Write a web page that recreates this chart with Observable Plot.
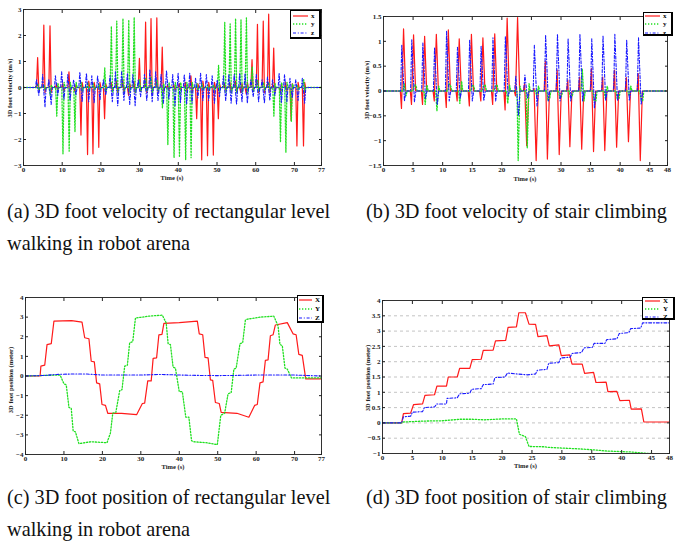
<!DOCTYPE html>
<html><head><meta charset="utf-8">
<script src="https://cdn.jsdelivr.net/npm/d3@7"></script>
<script src="https://cdn.jsdelivr.net/npm/@observablehq/plot@0.6"></script>
<style>
body{margin:0;background:#fff}
#fig{position:relative;width:675px;height:549px;overflow:hidden;background:#fff;font-family:'Liberation Serif',Tinos,'Times New Roman','DejaVu Serif',serif}
.panel{position:absolute}
.cap{position:absolute;font-family:'Liberation Serif',Tinos,'Times New Roman','DejaVu Serif',serif;font-size:20.3px;line-height:32px;white-space:nowrap;color:#111}
.axl{position:absolute;font-family:'Liberation Serif',Tinos,'Times New Roman',serif;font-size:6.5px;font-weight:bold;white-space:nowrap;color:#222;line-height:1}
.leg{position:absolute;background:#fff;border:1px solid #000;border-right-width:2px;border-bottom-width:2px;box-sizing:border-box}
</style></head><body><div id="fig"></div>
<script>
// ---------- (a) velocity, rectangular walking ----------
const stepsA = [3.7,5.3,6.9,8.6,10.2,11.8,13.3,14.9,16.6,18.0,19.5,21.0,22.7,24.1,25.7,27.2,28.6,30.0,31.6,33.0,34.5,35.9,37.3,38.9,40.3,41.9,43.3,44.8,46.1,47.6,49.1,50.4,52.0,53.4,54.8,56.2,57.6,59.1,60.5,62.0,63.4,64.7,66.4,67.8,69.2,70.7,72.4];
const xPeakA = [1.15,2.4,2.37,0.15,0.15,0.6,-0.15,-1.83,-2.58,-2.55,-2.3,-1.2,0.2,0.25,0.3,-0.3,0.25,1.12,2.52,2.65,2.68,1.55,0.1,0.1,0.15,0.2,0.45,-1.2,-2.78,-2.62,-2.6,-1.2,0.15,0.2,0.25,-0.2,-0.25,1.07,2.43,2.55,2.82,1.52,-0.15,0.2,-1.27,-2.25,-2.25];
const xBackA = [-0.1,-0.2,-0.2,-0.1,-0.15,-0.2,0.1,0.2,0.25,0.2,0.2,0.15,-0.15,-0.2,-0.2,0.15,-0.2,-0.15,-0.2,-0.25,-0.2,-0.2,-0.1,-0.1,-0.1,-0.15,-0.2,0.15,0.25,0.2,0.2,0.15,-0.1,-0.15,-0.15,0.15,0.2,-0.15,-0.2,-0.2,-0.2,-0.2,0.1,-0.15,0.15,0.2,0.2];
const yPeakA = [0.15,0.1,-0.3,-1.1,-2.55,-2.45,-1.7,0.2,0.2,0.15,0.15,0.75,2.35,2.55,2.65,2.6,2.7,0.3,0.35,0.4,0.3,-0.8,-2.2,-2.7,-2.68,-2.78,-2.7,0.15,0.15,0.1,0.1,0.85,2.5,2.45,2.65,2.6,2.68,0.8,0.3,0.2,0.2,-1.1,-2.1,-2.5,-1.3,0.1,0.3];
const yBackA = [-0.1,-0.1,0.1,0.15,0.2,0.2,0.2,-0.15,-0.15,-0.1,-0.1,-0.15,-0.2,-0.2,-0.2,-0.2,-0.2,-0.15,-0.15,-0.2,-0.15,0.15,0.2,0.2,0.2,0.2,0.2,-0.1,-0.1,-0.1,-0.1,-0.15,-0.2,-0.2,-0.2,-0.2,-0.2,-0.15,-0.15,-0.1,-0.1,0.15,0.2,0.2,0.15,-0.1,-0.15];
const zUpA = [0.3,0.5,0.3,0.45,0.6,0.5,0.3,0.6,0.55,0.45,0.45,0.3,0.45,0.6,0.6,0.55,0.5,0.3,0.5,0.7,0.6,0.5,0.65,0.5,0.55,0.5,0.55,0.35,0.55,0.5,0.45,0.3,0.45,0.5,0.5,0.55,0.55,0.3,0.5,0.3,0.4,0.3,0.55,0.5,0.35,0.3,0.35];
const zDownA = [-0.3,-0.75,-0.65,-0.3,-0.45,-0.5,-0.3,-0.55,-0.55,-0.6,-0.5,-0.3,-0.55,-0.7,-0.5,-0.65,-0.7,-0.35,-0.5,-0.55,-0.5,-0.6,-0.45,-0.7,-0.6,-0.65,-0.6,-0.4,-0.5,-0.5,-0.6,-0.35,-0.5,-0.6,-0.65,-0.55,-0.6,-0.35,-0.55,-0.6,-0.5,-0.3,-0.6,-0.55,-0.4,-0.5,-0.6];

// ---------- (b) velocity, stair climbing ----------
const stepsB = [3.39,5.08,6.95,8.93,10.96,12.8,14.86,16.8,18.8,20.9,22.66,24.2,25.8,27.7,29.7,31.5,33.5,35.5,37.4,39.4,41.4,43.4];
const xPreB  = [-0.35,-0.27,-0.27,-0.2,-0.33,-0.2,-0.3,-0.2,-0.27,-0.38,-0.1,0.15,0.05,0.6,0.42,0.22,0.28,0.45,0.28,0.42,0.27,0.35];
const xPeakB = [1.25,1.13,1.1,1.14,1.23,1.05,1.14,1.07,1.15,1.47,1.48,-1.1,-1.4,-1.37,-1.28,-1.12,-1.17,-1.22,-1.2,-1.13,-1.02,-1.4];
const zPeakB = [0.92,1.03,0.97,0.88,1.2,0.88,1.02,0.9,1.07,1.1,0.3,0.32,0.92,1.13,1.15,1.05,1.15,1.05,1.12,1.14,1.03,1.07];
const zBackB = [-0.2,-0.22,-0.15,-0.28,-0.2,-0.15,-0.2,-0.2,-0.2,-0.1,-0.5,-0.15,-0.3,-0.2,-0.2,-0.2,-0.2,-0.35,-0.2,-0.2,-0.2,-0.28];
const yAB = [0.15,0.12,-0.27,-0.4,0.15,-0.25,0.12,0.1,0.1,-0.25,-1.4,-1.15,-0.1,-0.2,-0.15,-0.15,0.45,-0.2,-0.15,-0.15,-0.1,-0.15];
const yBB = [-0.1,0.12,0.12,0.1,0.1,0.2,0.1,0.12,0.12,0.12,0.1,0.15,0.1,-0.15,-0.1,-0.1,-0.2,-0.2,0.1,-0.15,0.1,-0.2];

// ---------- (c) position, rectangular walking ----------
const cXt = [0,3.8,4.0,5.0,5.6,6.7,7.4,12,14.7,15.4,16.5,17.1,17.9,18.5,19.3,19.9,20.8,21.4,25,28.9,30.4,31.0,31.8,32.7,33.2,34.1,34.7,35.5,36.0,40,44.7,45.2,46.1,46.7,47.5,48.1,48.7,49.4,50.4,50.9,55,58.1,59.6,60.3,61.0,61.8,62.4,63.1,63.7,64.4,65.0,68.1,69.6,70.4,71.1,72.0,72.9,77];
const cXv = [0,0,0.5,0.55,1.6,1.65,2.8,2.82,2.75,1.95,1.9,0.75,0.72,-0.35,-0.4,-1.45,-1.5,-1.9,-1.9,-1.97,-1.4,-1.38,-0.25,-0.25,0.9,0.92,2.1,2.12,2.68,2.72,2.8,2.15,2.1,0.95,0.92,-0.2,-0.22,-1.35,-1.4,-1.85,-1.9,-2.1,-1.5,-1.45,-0.35,-0.3,0.8,0.82,2.05,2.1,2.6,2.72,2.15,2.1,1.1,1.05,-0.15,-0.15];
const cYt = [0,8.4,9.0,10.0,10.6,11.3,11.9,12.4,13.0,13.9,17,21.2,22.1,22.7,23.5,24.5,25.1,25.8,26.5,27.1,27.9,28.6,32,35.6,36.6,37.1,37.7,38.4,39.0,40.0,40.8,41.7,42.5,43.2,43.8,47,49.9,50.8,51.8,52.7,53.5,54.2,54.8,55.8,56.5,57.2,57.8,61,64.6,65.7,66.2,66.8,67.5,68.1,69.2,77];
const cYv = [0,0.05,0.05,-0.4,-0.45,-1.6,-1.65,-2.8,-2.85,-3.45,-3.35,-3.4,-2.9,-1.9,-1.85,-0.75,-0.7,0.5,0.55,1.7,1.75,2.95,3.05,3.1,2.7,1.65,1.6,0.45,0.4,-0.8,-0.8,-2.1,-2.1,-3.3,-3.35,-3.4,-3.5,-2.0,-1.9,-0.9,-0.85,0.35,0.4,1.65,1.7,2.85,2.9,3.0,3.05,2.55,1.6,1.55,0.4,0.35,-0.1,-0.1];
const cZt = [0,5,8,12,16,20,25,30,35,40,45,50,55,60,65,70,74,77];
const cZv = [0,0.03,0.08,0.1,0.1,0.05,0.05,0.05,0.08,0.05,0.03,0.02,0.03,0.05,0.05,0.05,0.02,0];

// ---------- (d) position, stair climbing ----------
const dXt = [0,3.2,3.5,4.7,5.2,6.7,7.1,8.7,9.1,10.7,11.0,12.5,12.9,14.6,15.0,16.5,16.85,18.5,18.9,20.6,21.0,22.4,22.8,23.9,24.5,25.6,26.0,27.5,27.9,29.5,29.9,31.3,31.7,33.4,33.8,35.3,35.7,37.4,37.7,39.2,39.7,41.3,41.6,43.3,43.7,48];
const dXv = [0,0,0.3,0.32,0.6,0.62,0.9,0.92,1.2,1.2,1.5,1.5,1.78,1.78,2.07,2.08,2.37,2.38,2.68,2.7,3.12,3.14,3.6,3.6,3.23,3.22,2.82,2.85,2.52,2.55,2.2,2.22,1.92,1.92,1.62,1.65,1.32,1.33,1.02,1.03,0.73,0.74,0.45,0.46,0.03,0.03];
const dZt = [0,3.2,3.5,4.7,5.0,6.7,7.0,8.7,9.1,10.7,10.8,12.5,12.9,14.6,14.9,16.5,16.85,18.5,18.8,20.5,20.9,22.5,24.2,25.6,25.9,27.5,27.8,29.5,29.8,31.4,31.7,33.3,33.7,35.1,35.4,37.2,37.5,39.2,39.6,41.2,41.5,43.2,43.5,48];
const dZv = [0,0,0.2,0.22,0.35,0.37,0.5,0.52,0.62,0.62,0.8,0.82,0.95,0.97,1.1,1.12,1.25,1.27,1.48,1.5,1.63,1.6,1.57,1.6,1.72,1.75,1.95,1.97,2.12,2.15,2.27,2.3,2.45,2.47,2.6,2.6,2.72,2.75,2.92,2.95,3.08,3.1,3.27,3.27];
const dYt = [0,3.2,3.5,7,10,13,15,17,20,22.4,22.9,23.9,24.5,27,27.8,29.8,33,35.3,37.5,41.5,43.4,48];
const dYv = [0,0,0.03,0.06,0.07,0.12,0.12,0.1,0.13,0.13,-0.37,-0.45,-0.77,-0.78,-0.8,-0.82,-0.85,-0.88,-0.92,-0.95,-0.98,-1.05];

// ticks
const ticks77 = [0,10,20,30,40,50,60,70,77];
const ticks48 = [0,5,10,15,20,25,30,35,40,45,48];
const ticksA = [-3,-2,-1,0,1,2,3];
const ticksB = [-1.5,-1,-0.5,0,0.5,1,1.5];
const ticksC = [-4,-3,-2,-1,0,1,2,3,4];
const ticksD = [-1,-0.5,0,0.5,1,1.5,2,2.5,3,3.5,4];

// styles
const RED="#ff1a1a", GREEN="#22e022", BLUE="#1a1aff";
const sX = {stroke:RED, strokeWidth:1.2};
const sY = {stroke:GREEN, strokeWidth:1.3, strokeDasharray:"1.3,1.7"};
const sZ = {stroke:BLUE, strokeWidth:1.1, strokeDasharray:"3,1.8,1,1.8"};

function spikes(times, a, b, o, xMax){
  const pts=[{t:0,v:0}];
  times.forEach((t,i)=>{
    pts.push({t:t+o.da-o.w1,v:0},{t:t+o.da,v:a[i]},{t:t+o.db,v:b[i]},{t:t+o.db+o.w2,v:0});
  });
  pts.push({t:xMax,v:0});
  return pts;
}
const zip=(ts,vs)=>ts.map((t,i)=>({t,v:vs[i]}));
const fmt = d => d<0 ? "\u2212"+Math.abs(d) : String(d);
const FONT = "'Liberation Serif',Tinos,'Times New Roman',serif";

const fig = document.getElementById("fig");

function panel(cfg){
  const marks=[];
  if (cfg.grid) marks.push(Plot.ruleY(cfg.yTicks.filter(d=>d>cfg.yDomain[0]&&d<cfg.yDomain[1]),{stroke:"#aaa",strokeWidth:0.7,strokeDasharray:"3,3"}));
  for (const s of cfg.series) marks.push(Plot.line(s.data,{x:"t",y:"v",...s.style,clip:true}));
  marks.push(Plot.frame({stroke:"#000",strokeWidth:0.8}));
  marks.push(Plot.axisX(cfg.xTicks,{anchor:"bottom",tickSize:-3,tickPadding:4.5,tickFormat:fmt,label:null}));
  marks.push(Plot.axisX(cfg.xTicks,{anchor:"top",tickSize:-3,tickFormat:()=>"",label:null}));
  marks.push(Plot.axisY(cfg.yTicks,{anchor:"left",tickSize:-3,tickPadding:5,tickFormat:fmt,label:null}));
  marks.push(Plot.axisY(cfg.yTicks,{anchor:"right",tickSize:-3,tickFormat:()=>"",label:null}));
  const p = Plot.plot({
    width:cfg.width, height:cfg.height,
    marginTop:cfg.mt, marginRight:cfg.mr, marginBottom:cfg.mb, marginLeft:cfg.ml,
    x:{domain:cfg.xDomain}, y:{domain:cfg.yDomain},
    style:{fontFamily:FONT,fontSize:"7px",fontWeight:"bold",background:"transparent",color:"#222"},
    marks
  });
  p.classList.add("panel");
  p.style.left=cfg.left+"px"; p.style.top=cfg.top+"px";
  fig.appendChild(p);
  // axis titles
  const xl=document.createElement("div"); xl.className="axl"; xl.textContent=cfg.xLabel;
  xl.style.left=(cfg.left+cfg.ml+(cfg.width-cfg.ml-cfg.mr)/2)+"px"; xl.style.top=cfg.xLabelY+"px";
  xl.style.transform="translate(-50%,-50%)"; fig.appendChild(xl);
  const yl=document.createElement("div"); yl.className="axl"; yl.textContent=cfg.yLabel;
  yl.style.left=cfg.yLabelX+"px"; yl.style.top=cfg.yLabelY+"px";
  yl.style.transform="translate(-50%,-50%) rotate(-90deg)"; fig.appendChild(yl);
  // legend
  const L=cfg.legend;
  const lg=document.createElement("div"); lg.className="leg";
  Object.assign(lg.style,{left:L.x+"px",top:L.y+"px",width:L.w+"px",height:L.h+"px"});
  const ns="http://www.w3.org/2000/svg";
  const sv=document.createElementNS(ns,"svg"); sv.setAttribute("width",L.w); sv.setAttribute("height",L.h);
  sv.style.position="absolute"; sv.style.left="-1px"; sv.style.top="-1px";
  cfg.series.forEach((s,i)=>{
    const y=L.rows[i];
    const ln=document.createElementNS(ns,"line");
    ln.setAttribute("x1",L.l1); ln.setAttribute("x2",L.l2); ln.setAttribute("y1",y); ln.setAttribute("y2",y);
    ln.setAttribute("stroke",s.style.stroke); ln.setAttribute("stroke-width",s.style.strokeWidth);
    if (s.style.strokeDasharray) ln.setAttribute("stroke-dasharray",s.style.strokeDasharray);
    sv.appendChild(ln);
    const tx=document.createElementNS(ns,"text");
    tx.setAttribute("x",L.tx); tx.setAttribute("y",y); tx.setAttribute("dy","0.33em");
    tx.setAttribute("font-size","7"); tx.setAttribute("font-weight","bold");
    tx.setAttribute("font-family",FONT); tx.textContent=s.name;
    sv.appendChild(tx);
  });
  lg.appendChild(sv); fig.appendChild(lg);
}

// (a)
panel({left:0,top:0,width:330,height:185,mt:9,mr:9,mb:20,ml:23,
  xDomain:[0,77],yDomain:[-3,3],xTicks:ticks77,yTicks:ticksA,
  xLabel:"Time (s)",xLabelY:178,yLabel:"3D foot velocity (m/s)",yLabelX:10,yLabelY:88,
  series:[
    {name:"x",style:sX,data:spikes(stepsA,xPeakA,xBackA,{da:-0.05,db:0.25,w1:0.3,w2:0.25},77)},
    {name:"y",style:sY,data:spikes(stepsA,yPeakA,yBackA,{da:0,db:0.3,w1:0.3,w2:0.25},77)},
    {name:"z",style:sZ,data:spikes(stepsA,zUpA,zDownA,{da:-0.35,db:0.25,w1:0.25,w2:0.3},77)}
  ],
  legend:{x:290,y:10,w:31,h:29,rows:[6,14,23],l1:3,l2:18,tx:21}
});
// (b)
panel({left:340,top:0,width:335,height:185,mt:16,mr:8,mb:20,ml:43,
  xDomain:[0,48],yDomain:[-1.5,1.5],xTicks:ticks48,yTicks:ticksB,
  xLabel:"Time (s)",xLabelY:179,yLabel:"3D foot velocity (m/s)",yLabelX:367,yLabelY:90,
  series:[
    {name:"x",style:sX,data:spikes(stepsB,xPreB,xPeakB,{da:-0.35,db:0,w1:0.2,w2:0.35},48)},
    {name:"y",style:sY,data:spikes(stepsB,yAB,yBB,{da:0.1,db:0.4,w1:0.2,w2:0.2},48)},
    {name:"z",style:sZ,data:spikes(stepsB,zPeakB,zBackB,{da:-0.3,db:0.15,w1:0.2,w2:0.25},48)}
  ],
  legend:{x:643,y:12,w:30,h:24,rows:[4,12,21],l1:2,l2:17,tx:20}
});
// (c)
panel({left:0,top:285,width:330,height:190,mt:12,mr:9,mb:21,ml:25,
  xDomain:[0,77],yDomain:[-4,4],xTicks:ticks77,yTicks:ticksC,
  xLabel:"Time (s)",xLabelY:467,yLabel:"3D foot position (meter)",yLabelX:11,yLabelY:380,
  series:[
    {name:"X",style:sX,data:zip(cXt,cXv)},
    {name:"Y",style:sY,data:zip(cYt,cYv)},
    {name:"Z",style:sZ,data:zip(cZt,cZv)}
  ],
  legend:{x:297,y:295,w:27,h:28,rows:[5,14,23],l1:2,l2:15,tx:18}
});
// (d)
panel({left:340,top:285,width:335,height:190,mt:15,mr:6,mb:22,ml:42,grid:true,
  xDomain:[0,48],yDomain:[-1,4],xTicks:ticks48,yTicks:ticksD,
  xLabel:"Time (s)",xLabelY:466,yLabel:"3D foot position (meter)",yLabelX:368,yLabelY:378,
  series:[
    {name:"X",style:sX,data:zip(dXt,dXv)},
    {name:"Y",style:sY,data:zip(dYt,dYv)},
    {name:"Z",style:sZ,data:zip(dZt,dZv)}
  ],
  legend:{x:642,y:297,w:33,h:23,rows:[4,12,20],l1:3,l2:18,tx:21}
});

// captions
const captions = [
  {x:7,y:195,lines:["(a) 3D foot velocity of rectangular level","walking in robot arena"]},
  {x:366,y:195,lines:["(b) 3D foot velocity of stair climbing"]},
  {x:7,y:481,lines:["(c) 3D foot position of rectangular level","walking in robot arena"]},
  {x:366,y:481,lines:["(d) 3D foot position of stair climbing"]}
];
for (const c of captions){
  const d=document.createElement("div"); d.className="cap";
  d.style.left=c.x+"px"; d.style.top=c.y+"px";
  d.innerHTML=c.lines.join("<br>"); fig.appendChild(d);
}
</script></body></html>
